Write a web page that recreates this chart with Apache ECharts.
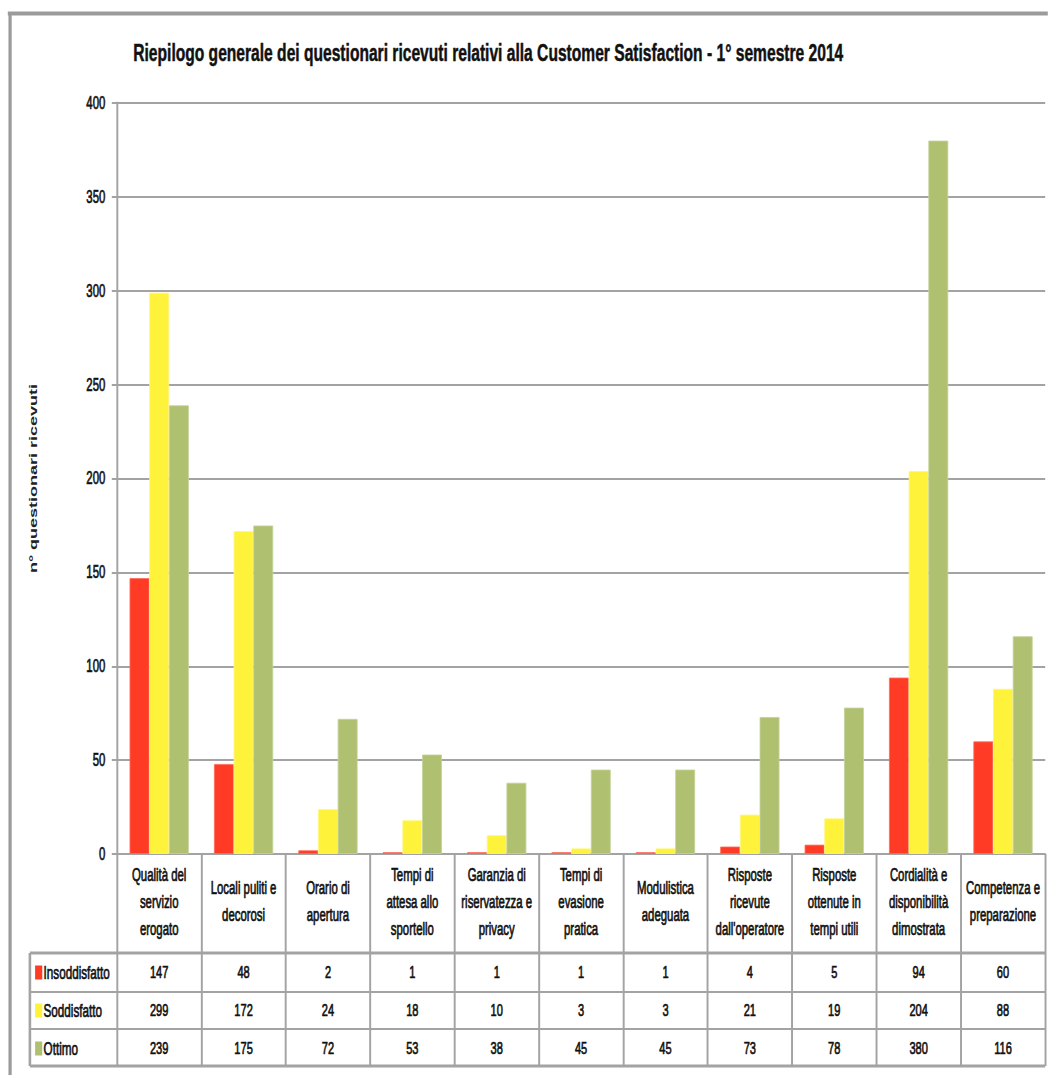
<!DOCTYPE html>
<html>
<head>
<meta charset="utf-8">
<title>Customer Satisfaction - 1° semestre 2014</title>
<script src="https://cdn.jsdelivr.net/npm/echarts@6/dist/echarts.min.js"></script>
<style>
  html, body { margin: 0; padding: 0; background: #ffffff; overflow: hidden; width: 1048px; height: 1075px; }
  /* the chart is laid out wide and squeezed horizontally, giving the narrow lettering */
  #chart { width: 1612px; height: 1075px; transform: scaleX(0.65); transform-origin: 0 0; }
</style>
</head>
<body>
<div id="chart"></div>
<script>
// Survey categories (header cells of the table under the chart)
const categories = [
  'Qualità del\nservizio\nerogato',
  'Locali puliti e\ndecorosi',
  'Orario di\napertura',
  'Tempi di\nattesa allo\nsportello',
  'Garanzia di\nriservatezza e\nprivacy',
  'Tempi di\nevasione\npratica',
  'Modulistica\nadeguata',
  'Risposte\nricevute\ndall\'operatore',
  'Risposte\nottenute in\ntempi utili',
  'Cordialità e\ndisponibilità\ndimostrata',
  'Competenza e\npreparazione'
];

// Number of questionnaires per rating
const insoddisfatto = [147, 48, 2, 1, 1, 1, 1, 4, 5, 94, 60];
const soddisfatto   = [299, 172, 24, 18, 10, 3, 3, 21, 19, 204, 88];
const ottimo        = [239, 175, 72, 53, 38, 45, 45, 73, 78, 380, 116];

const seriesNames = ['Insoddisfatto', 'Soddisfatto', 'Ottimo'];
const yTicks = { min: 0, max: 400, interval: 50 };

const titleText = 'Riepilogo generale dei questionari ricevuti relativi alla Customer Satisfaction - 1° semestre 2014';
const yAxisTitle = 'n° questionari ricevuti';

// ---- layout & styles (in the un-squeezed coordinate space) ----
const FONT = '"Liberation Sans", Arial, sans-serif';
const COLORS = ['#ff3b26', '#fff23a', '#afc070'];
const BORDERS = ['#ff6b58', '#fff77c', '#c4d299'];
const W = 1612, H = 1075;
const GRID = { left: 180, top: 103, right: 4, bottom: 221 };
const plotBottom = H - GRID.bottom;      // y of value 0
const plotRight = W - GRID.right;
const tableTop = 953, rowLines = [992, 1029], tableBottom = 1066, tableLeft = 46;
const rowCenters = [972, 1010, 1048];
const LINE = '#a3a3a3';
const TEXT = '#111111';
// a thin outline of the same colour gives the text a heavier look
const heavy = { textBorderColor: TEXT, textBorderWidth: 0.7 };

const chart = echarts.init(document.getElementById('chart'), null, { renderer: 'svg' });

const seriesData = [insoddisfatto, soddisfatto, ottimo];

// value rows of the data table, one extra category axis per row
const rowAxes = seriesData.map((vals, r) => ({
  type: 'category',
  data: categories,
  position: 'bottom',
  offset: rowCenters[r] - plotBottom,
  axisLine: { show: false },
  axisTick: { show: false },
  axisLabel: Object.assign({
    interval: 0,
    margin: 0,
    verticalAlign: 'middle',
    fontFamily: FONT,
    fontSize: 17,
    color: TEXT,
    formatter: (v, i) => String(vals[i])
  }, heavy)
}));

const graphics = [];
// outer frame (top and left edges)
graphics.push({
  type: 'line', silent: true,
  shape: { x1: 12, y1: 13.5, x2: W + 10, y2: 13.5 },
  style: { stroke: '#9b9b9b', lineWidth: 4 }
});
graphics.push({
  type: 'line', silent: true,
  shape: { x1: 15.5, y1: 12, x2: 15.5, y2: H + 10 },
  style: { stroke: '#9b9b9b', lineWidth: 5 }
});
// table borders
const hLine = (y, w) => ({
  type: 'line', silent: true,
  shape: { x1: tableLeft, y1: y, x2: plotRight, y2: y },
  style: { stroke: LINE, lineWidth: w }
});
graphics.push(hLine(tableTop, 3));
rowLines.forEach(y => graphics.push(hLine(y, 2)));
graphics.push(hLine(tableBottom, 3));
graphics.push({
  type: 'line', silent: true,
  shape: { x1: tableLeft, y1: tableTop, x2: tableLeft, y2: tableBottom },
  style: { stroke: LINE, lineWidth: 4 }
});
// legend keys + row names
seriesNames.forEach((name, r) => {
  graphics.push({
    type: 'rect', silent: true,
    shape: { x: 54, y: rowCenters[r] - 6.5, width: 11, height: 14 },
    style: { fill: COLORS[r] }
  });
  graphics.push({
    type: 'text', silent: true,
    x: 67, y: rowCenters[r],
    style: {
      text: name, fill: TEXT,
      font: '18px ' + FONT,
      stroke: TEXT, lineWidth: 0.7,
      verticalAlign: 'middle', align: 'left'
    }
  });
});

const option = {
  backgroundColor: '#ffffff',
  animation: false,
  title: {
    text: titleText,
    left: 200, top: 36,
    textStyle: { fontFamily: FONT, fontWeight: 'bold', fontSize: 24, color: TEXT, textBorderColor: TEXT, textBorderWidth: 0.5 }
  },
  grid: { left: GRID.left, top: GRID.top, right: GRID.right, bottom: GRID.bottom, containLabel: false },
  xAxis: [{
    type: 'category',
    data: categories,
    position: 'bottom',
    axisLine: { show: true, lineStyle: { color: LINE, width: 2 } },
    axisTick: { show: true, interval: 0, length: tableBottom - plotBottom, lineStyle: { color: LINE, width: 3 } },
    axisLabel: Object.assign({
      interval: 0,
      margin: 48,
      verticalAlign: 'middle',
      lineHeight: 27,
      fontFamily: FONT,
      fontSize: 17.5,
      color: TEXT
    }, heavy)
  }].concat(rowAxes),
  yAxis: {
    type: 'value',
    min: yTicks.min, max: yTicks.max, interval: yTicks.interval,
    name: yAxisTitle,
    nameLocation: 'middle',
    nameGap: 120,
    nameRotate: 90,
    nameTextStyle: { fontFamily: FONT, fontWeight: 'bold', fontSize: 18, color: '#222' },
    axisLine: { show: true, lineStyle: { color: LINE, width: 3 } },
    axisTick: { show: true, length: 8, lineStyle: { color: LINE, width: 2 } },
    axisLabel: Object.assign({ margin: 18, fontFamily: FONT, fontSize: 17.5, color: TEXT }, heavy),
    splitLine: { show: true, lineStyle: { color: LINE, width: 2 } }
  },
  series: seriesData.map((vals, r) => ({
    name: seriesNames[r],
    type: 'bar',
    data: vals,
    barGap: '0%',
    barCategoryGap: '30%',
    itemStyle: { color: COLORS[r], borderColor: BORDERS[r], borderWidth: 1 }
  })),
  graphic: graphics
};

chart.setOption(option);
</script>
</body>
</html>
